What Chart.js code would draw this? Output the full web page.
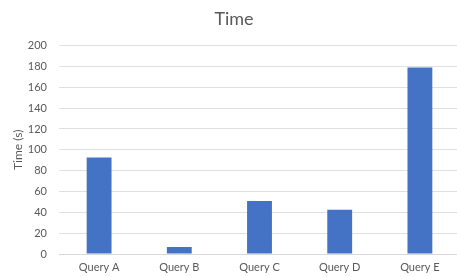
<!DOCTYPE html>
<html>
<head>
<meta charset="utf-8">
<script src="https://cdn.jsdelivr.net/npm/chart.js@4"></script>
<style>
  html, body { margin: 0; padding: 0; background: #fff; }
  #wrap { width: 457px; height: 277px; overflow: hidden; }
  #inner { width: 460px; height: 277px; }
</style>
</head>
<body>
<div id="wrap"><div id="inner"><canvas id="chart"></canvas></div></div>
<script>
const categories = ['Query A', 'Query B', 'Query C', 'Query D', 'Query E'];
const timeValues = [92.5, 6.7, 50.8, 42.4, 179];
const yTicks = [0, 20, 40, 60, 80, 100, 120, 140, 160, 180, 200];
const chartTitle = 'Time';
const yAxisTitle = 'Time (s)';

const ctx = document.getElementById('chart').getContext('2d');
const myChart = new Chart(ctx, {
  type: 'bar',
  data: {
    labels: categories,
    datasets: [{
      label: 'Time',
      data: timeValues,
      backgroundColor: '#4472c4',
      borderWidth: 0,
      categoryPercentage: 1,
      barPercentage: 0.31
    }]
  },
  options: {
    responsive: true,
    maintainAspectRatio: false,
    animation: false,
    layout: { padding: { left: 8, right: 0, top: 0, bottom: 0 } },
    plugins: {
      legend: { display: false },
      tooltip: { enabled: false },
      title: {
        display: true,
        text: chartTitle,
        color: '#595959',
        font: { family: 'Lato', size: 18, weight: 'normal' },
        padding: { top: 8, bottom: 16 }
      }
    },
    scales: {
      x: {
        afterFit: (axis) => { axis.height = 23; },
        grid: { display: false, drawTicks: false },
        border: { color: '#d9d9d9' },
        ticks: { color: '#595959', font: { family: 'Lato', size: 11 }, padding: 7 }
      },
      y: {
        min: yTicks[0],
        max: yTicks[yTicks.length - 1],
        afterBuildTicks: (axis) => { axis.ticks = yTicks.map(v => ({ value: v })); },
        afterFit: (axis) => { axis.width = 51; },
        ticks: { color: '#595959', font: { family: 'Lato', size: 11 }, padding: 12 },
        grid: { color: '#e0e0e0', drawTicks: false },
        border: { display: false },
        title: {
          display: true,
          text: yAxisTitle,
          color: '#595959',
          font: { family: 'Lato', size: 12 },
          padding: { top: 3, bottom: 3 }
        }
      }
    }
  }
});
</script>
</body>
</html>
